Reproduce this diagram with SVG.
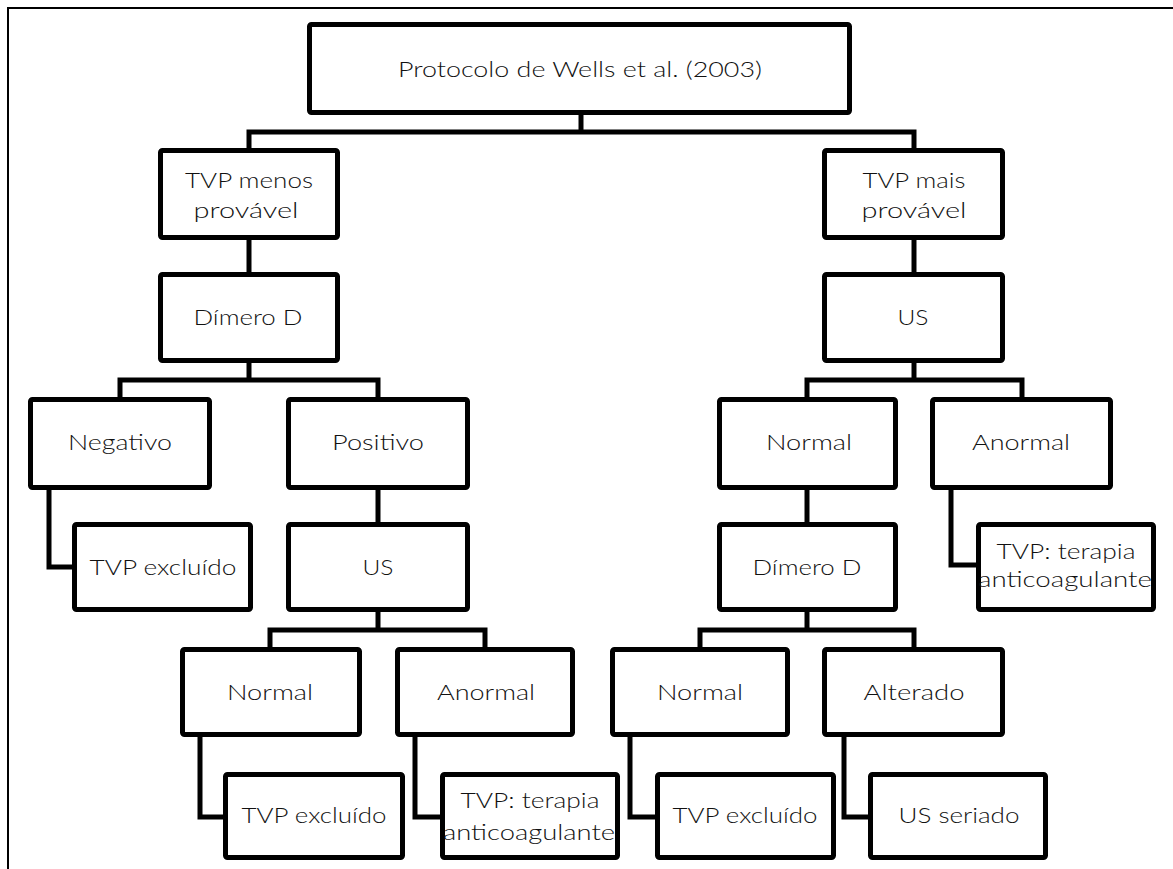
<svg xmlns="http://www.w3.org/2000/svg" width="1173" height="869" viewBox="0 0 1173 869">
<style>
.box{fill:#fff;stroke:#000;stroke-width:5;}
.c{fill:none;stroke:#000;stroke-width:5;stroke-linejoin:miter;}
.frame{fill:none;stroke:#000;stroke-width:2;}
text{font-family:Lato,"Liberation Sans",Arial,sans-serif;font-size:21px;font-weight:300;fill:#111;text-anchor:middle;}
</style>
<rect width="1173" height="869" fill="#fff"/>
<path class="frame" d="M8,869 V8 H1173"/>
<g id="connectors">
<path class="c" d="M581,115 V132"/>
<path class="c" d="M249,148 V132 H914 V148"/>
<path class="c" d="M249,240 V272"/>
<path class="c" d="M914,240 V272"/>
<path class="c" d="M249,363 V380"/>
<path class="c" d="M120,397 V380 H378 V397"/>
<path class="c" d="M914,363 V380"/>
<path class="c" d="M807,397 V380 H1022 V397"/>
<path class="c" d="M49,490 V567 H72"/>
<path class="c" d="M378,490 V522"/>
<path class="c" d="M807,490 V522"/>
<path class="c" d="M951,490 V565 H976"/>
<path class="c" d="M378,612 V630"/>
<path class="c" d="M270,647 V630 H485 V647"/>
<path class="c" d="M807,612 V630"/>
<path class="c" d="M700,647 V630 H914 V647"/>
<path class="c" d="M200,737 V817 H223"/>
<path class="c" d="M415,737 V817 H440"/>
<path class="c" d="M630,737 V817 H655"/>
<path class="c" d="M844,737 V817 H868"/>
</g>
<g id="n-protocolo"><rect class="box" x="309.5" y="24.5" width="540" height="88" rx="2"/><text x="580" y="77" textLength="364" lengthAdjust="spacingAndGlyphs">Protocolo de Wells et al. (2003)</text></g>
<g id="n-menos"><rect class="box" x="160.5" y="150.5" width="177" height="87" rx="2"/><text x="249" y="188" textLength="128" lengthAdjust="spacingAndGlyphs">TVP menos</text><text x="246" y="218" textLength="105" lengthAdjust="spacingAndGlyphs">provável</text></g>
<g id="n-mais"><rect class="box" x="824.5" y="150.5" width="178" height="87" rx="2"/><text x="914" y="188" textLength="103" lengthAdjust="spacingAndGlyphs">TVP mais</text><text x="914" y="218" textLength="105" lengthAdjust="spacingAndGlyphs">provável</text></g>
<g id="n-dimero-l"><rect class="box" x="160.5" y="274.5" width="177" height="86" rx="2"/><text x="248" y="325" textLength="109" lengthAdjust="spacingAndGlyphs">Dímero D</text></g>
<g id="n-us-r"><rect class="box" x="824.5" y="274.5" width="178" height="86" rx="2"/><text x="913" y="325" textLength="31" lengthAdjust="spacingAndGlyphs">US</text></g>
<g id="n-negativo"><rect class="box" x="30.5" y="399.5" width="179" height="88" rx="2"/><text x="120" y="450" textLength="104" lengthAdjust="spacingAndGlyphs">Negativo</text></g>
<g id="n-positivo"><rect class="box" x="288.5" y="399.5" width="179" height="88" rx="2"/><text x="378" y="450" textLength="92" lengthAdjust="spacingAndGlyphs">Positivo</text></g>
<g id="n-normal-r"><rect class="box" x="719.5" y="399.5" width="176" height="88" rx="2"/><text x="809" y="450" textLength="86" lengthAdjust="spacingAndGlyphs">Normal</text></g>
<g id="n-anormal-r"><rect class="box" x="932.5" y="399.5" width="178" height="88" rx="2"/><text x="1021" y="450" textLength="98" lengthAdjust="spacingAndGlyphs">Anormal</text></g>
<g id="n-excluido-1"><rect class="box" x="74.5" y="524.5" width="176" height="85" rx="2"/><text x="163" y="575" textLength="147" lengthAdjust="spacingAndGlyphs">TVP excluído</text></g>
<g id="n-us-l"><rect class="box" x="288.5" y="524.5" width="179" height="85" rx="2"/><text x="378" y="575" textLength="31" lengthAdjust="spacingAndGlyphs">US</text></g>
<g id="n-dimero-r"><rect class="box" x="719.5" y="524.5" width="176" height="85" rx="2"/><text x="807" y="575" textLength="109" lengthAdjust="spacingAndGlyphs">Dímero D</text></g>
<g id="n-terapia-r"><rect class="box" x="978.5" y="524.5" width="175" height="85" rx="2"/><text x="1066" y="559" textLength="139" lengthAdjust="spacingAndGlyphs">TVP: terapia</text><text x="1065" y="587" textLength="174" lengthAdjust="spacingAndGlyphs">anticoagulante</text></g>
<g id="n-normal-bl"><rect class="box" x="182.5" y="649.5" width="177" height="85" rx="2"/><text x="270" y="700" textLength="86" lengthAdjust="spacingAndGlyphs">Normal</text></g>
<g id="n-anormal-bl"><rect class="box" x="397.5" y="649.5" width="175" height="85" rx="2"/><text x="486" y="700" textLength="98" lengthAdjust="spacingAndGlyphs">Anormal</text></g>
<g id="n-normal-br"><rect class="box" x="612.5" y="649.5" width="175" height="85" rx="2"/><text x="700" y="700" textLength="86" lengthAdjust="spacingAndGlyphs">Normal</text></g>
<g id="n-alterado"><rect class="box" x="824.5" y="649.5" width="178" height="85" rx="2"/><text x="914" y="700" textLength="101" lengthAdjust="spacingAndGlyphs">Alterado</text></g>
<g id="n-excluido-2"><rect class="box" x="225.5" y="774.5" width="177" height="83" rx="2"/><text x="314" y="823" textLength="145" lengthAdjust="spacingAndGlyphs">TVP excluído</text></g>
<g id="n-terapia-l"><rect class="box" x="442.5" y="774.5" width="175" height="83" rx="2"/><text x="530" y="808" textLength="139" lengthAdjust="spacingAndGlyphs">TVP: terapia</text><text x="529" y="840" textLength="172" lengthAdjust="spacingAndGlyphs">anticoagulante</text></g>
<g id="n-excluido-3"><rect class="box" x="657.5" y="774.5" width="176" height="83" rx="2"/><text x="745" y="823" textLength="145" lengthAdjust="spacingAndGlyphs">TVP excluído</text></g>
<g id="n-seriado"><rect class="box" x="870.5" y="774.5" width="175" height="83" rx="2"/><text x="959" y="823" textLength="121" lengthAdjust="spacingAndGlyphs">US seriado</text></g>
</svg>
